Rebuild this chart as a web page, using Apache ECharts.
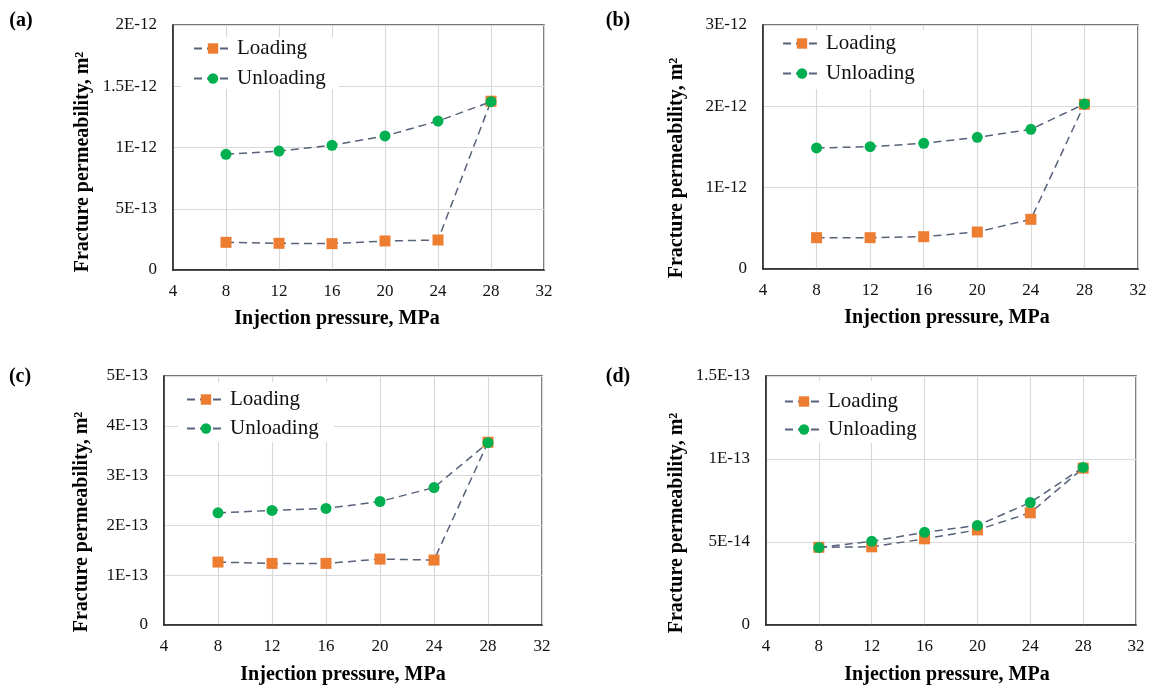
<!DOCTYPE html>
<html><head><meta charset="utf-8">
<script src="https://cdn.jsdelivr.net/npm/echarts@6/dist/echarts.min.js"></script>
<style>html,body{margin:0;padding:0;background:#fff}#c{width:1155px;height:688px}</style>
</head><body><div id="c"></div>
<script>
// ---------------- data ----------------
const pressure = [8, 12, 16, 20, 24, 28];
const seriesNames = ['Loading', 'Unloading'];
const panelLabels = ['(a)', '(b)', '(c)', '(d)'];
const xTitle = 'Injection pressure, MPa';
const yTitle = 'Fracture permeability, m\u00B2';

const loadingA   = [0.226e-12, 0.218e-12, 0.215e-12, 0.237e-12, 0.245e-12, 1.378e-12];
const unloadingA = [0.944e-12, 0.971e-12, 1.018e-12, 1.094e-12, 1.216e-12, 1.374e-12];
const loadingB   = [0.385e-12, 0.385e-12, 0.397e-12, 0.455e-12, 0.611e-12, 2.025e-12];
const unloadingB = [1.488e-12, 1.504e-12, 1.545e-12, 1.619e-12, 1.717e-12, 2.029e-12];
const loadingC   = [1.264e-13, 1.237e-13, 1.237e-13, 1.324e-13, 1.304e-13, 3.67e-13];
const unloadingC = [2.252e-13, 2.30e-13, 2.34e-13, 2.48e-13, 2.76e-13, 3.66e-13];
const loadingD   = [4.68e-14, 4.71e-14, 5.19e-14, 5.73e-14, 6.76e-14, 9.45e-14];
const unloadingD = [4.675e-14, 5.04e-14, 5.58e-14, 6.0e-14, 7.38e-14, 9.49e-14];

const yTicksA = ['0', '5E-13', '1E-12', '1.5E-12', '2E-12'];
const yTicksB = ['0', '1E-12', '2E-12', '3E-12'];
const yTicksC = ['0', '1E-13', '2E-13', '3E-13', '4E-13', '5E-13'];
const yTicksD = ['0', '5E-14', '1E-13', '1.5E-13'];
const yMaxA = 2e-12, yStepA = 5e-13;
const yMaxB = 3e-12, yStepB = 1e-12;
const yMaxC = 5e-13, yStepC = 1e-13;
const yMaxD = 1.5e-13, yStepD = 5e-14;
const xTicks = ['4', '8', '12', '16', '20', '24', '28', '32'];
const xMin = 4, xMax = 32, xStep = 4;

// ---------------- layout ----------------
const panels = [
  {load: loadingA, unload: unloadingA, ticks: yTicksA, max: yMaxA, step: yStepA,
   grid: {left: 173, top: 25, width: 371, height: 245},
   label: [21, 21], yT: [83, 162], xT: [337, 319],
   leg: {x: 193, y1: 48, y2: 78}, box: [181, 37, 158, 52]},
  {load: loadingB, unload: unloadingB, ticks: yTicksB, max: yMaxB, step: yStepB,
   grid: {left: 763, top: 25, width: 375, height: 244},
   label: [618, 21], yT: [677, 168], xT: [947, 318],
   leg: {x: 782, y1: 43, y2: 73}, box: [775, 30, 153, 59]},
  {load: loadingC, unload: unloadingC, ticks: yTicksC, max: yMaxC, step: yStepC,
   grid: {left: 164, top: 376, width: 378, height: 249},
   label: [20, 377], yT: [82, 522], xT: [343, 675],
   leg: {x: 186, y1: 399, y2: 428}, box: [178, 382, 156, 60]},
  {load: loadingD, unload: unloadingD, ticks: yTicksD, max: yMaxD, step: yStepD,
   grid: {left: 766, top: 376, width: 370, height: 249},
   label: [618, 377], yT: [677, 523], xT: [947, 675],
   leg: {x: 784, y1: 401, y2: 429}, box: [776, 381, 148, 62]}
];

const FONT = '"Liberation Serif", "Times New Roman", serif';
const lineStyle = {color: '#56627A', width: 1.5, type: [8, 5]};
const ORANGE = '#ED7D31', GREEN = '#00B050';

const grids = [], xAxes = [], yAxes = [], series = [], legends = [], graphics = [];
panels.forEach((p, i) => {
  grids.push(Object.assign({show: true, borderColor: '#4a4a4a', borderWidth: 1.5, backgroundColor: 'transparent'}, p.grid));
  xAxes.push({
    type: 'value', gridIndex: i, min: xMin, max: xMax, interval: xStep,
    axisLine: {show: true, lineStyle: {color: '#222', width: 1.5}},
    axisTick: {show: false},
    axisLabel: {margin: 13, fontFamily: FONT, fontSize: 17, color: '#111',
      formatter: (v) => xTicks[Math.round((v - xMin) / xStep)]},
    splitLine: {show: true, lineStyle: {color: '#d9d9d9', width: 1.2}}
  });
  yAxes.push({
    type: 'value', gridIndex: i, min: 0, max: p.max, interval: p.step,
    axisLine: {show: true, lineStyle: {color: '#222', width: 1.5}},
    axisTick: {show: false},
    axisLabel: {margin: 16, fontFamily: FONT, fontSize: 17, color: '#111',
      formatter: (v) => p.ticks[Math.round(v / p.step)]},
    splitLine: {show: true, lineStyle: {color: '#d9d9d9', width: 1.2}}
  });
  const mk = (name, vals, sym, col, z) => ({
    name: name, type: 'line', xAxisIndex: i, yAxisIndex: i,
    data: pressure.map((x, k) => [x, vals[k]]),
    symbol: sym, symbolSize: sym === 'rect' ? 11 : 11, showSymbol: true,
    lineStyle: lineStyle, itemStyle: {color: col, borderWidth: 0},
    z: z, animation: false
  });
  series.push(mk(seriesNames[0], p.load, 'rect', ORANGE, 2));
  series.push(mk(seriesNames[1], p.unload, 'circle', GREEN, 3));
  [p.leg.y1, p.leg.y2].forEach((yy, k) => {
    legends.push({
      data: [seriesNames[k]], orient: 'vertical', left: p.leg.x, top: yy - 10,
      padding: 0, itemWidth: 38, itemHeight: 13, selectedMode: false,
      textStyle: {fontFamily: FONT, fontSize: 21, color: '#111', lineHeight: 20},
      z: 5
    });
  });
  graphics.push({type: 'rect', z: 1, silent: true,
    shape: {x: p.box[0], y: p.box[1], width: p.box[2], height: p.box[3]},
    style: {fill: '#fff'}});
  graphics.push({type: 'text', z: 5, x: p.label[0], y: p.label[1],
    style: {text: panelLabels[i], font: 'bold 20px ' + FONT, fill: '#000',
      textAlign: 'center', textVerticalAlign: 'middle', align: 'center', verticalAlign: 'middle'}});
  graphics.push({type: 'text', z: 5, x: p.yT[0], y: p.yT[1], rotation: Math.PI / 2,
    style: {text: yTitle, font: 'bold 20px ' + FONT, fill: '#000',
      textAlign: 'center', textVerticalAlign: 'middle', align: 'center', verticalAlign: 'middle'}});
  graphics.push({type: 'text', z: 5, x: p.xT[0], y: p.xT[1],
    style: {text: xTitle, font: 'bold 20px ' + FONT, fill: '#000',
      textAlign: 'center', textVerticalAlign: 'middle', align: 'center', verticalAlign: 'middle'}});
});

const chart = echarts.init(document.getElementById('c'), null, {renderer: 'canvas'});
chart.setOption({
  backgroundColor: '#fff',
  animation: false,
  grid: grids, xAxis: xAxes, yAxis: yAxes, series: series,
  legend: legends, graphic: graphics
});
</script>
</body></html>
